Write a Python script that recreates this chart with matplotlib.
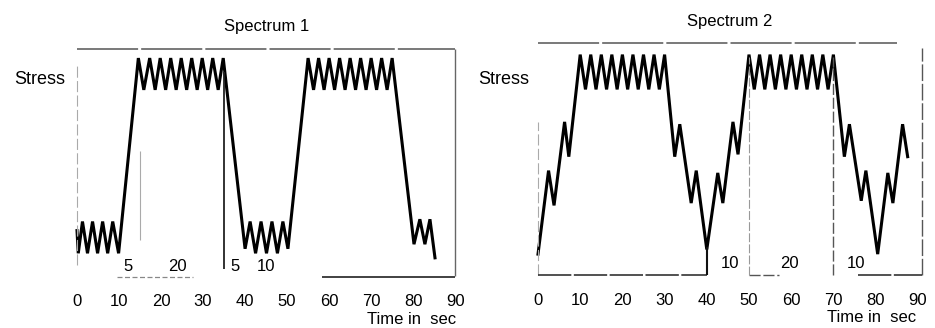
import matplotlib
matplotlib.use("Agg")
import matplotlib.pyplot as plt

plt.rcParams['font.family'] = ['Liberation Sans', 'DejaVu Sans']

# ---------------- data (time in sec, relative stress 0..1) ----------------
s1_time = [0.0, 0.3, 1.3, 2.5, 3.7, 4.9, 6.1, 7.3, 8.5, 9.9,
           14.6, 15.9, 17.3, 18.6, 19.8, 21.1, 22.3, 23.6, 24.8, 26.1, 27.3,
           28.6, 29.8, 31.1, 32.3, 33.6, 34.8,
           40.0, 41.2, 42.5, 43.8, 45.1, 46.4, 47.7, 49.0, 50.2,
           55.0, 56.3, 57.5, 58.8, 60.0, 61.3, 62.5, 63.8, 65.0, 66.3, 67.5,
           68.8, 70.0, 71.3, 72.5, 73.8, 75.0,
           80.2, 81.6, 82.8, 84.0, 85.2]
s1_stress = [0.20, 0.10, 0.24, 0.10, 0.24, 0.10, 0.24, 0.10, 0.24, 0.10,
             0.96, 0.82, 0.96, 0.82, 0.96, 0.82, 0.96, 0.82, 0.96, 0.82, 0.96,
             0.82, 0.96, 0.82, 0.96, 0.82, 0.96,
             0.12, 0.24, 0.10, 0.24, 0.10, 0.24, 0.10, 0.24, 0.12,
             0.96, 0.82, 0.96, 0.82, 0.96, 0.82, 0.96, 0.82, 0.96, 0.82, 0.96,
             0.82, 0.96, 0.82, 0.96, 0.82, 0.96,
             0.14, 0.25, 0.14, 0.25, 0.08]

s2_time = [0.0, 2.5, 3.8, 6.3, 7.3,
           10.0, 11.25, 12.5, 13.75, 15.0, 16.25, 17.5, 18.75, 20.0, 21.25,
           22.5, 23.75, 25.0, 26.25, 27.5, 28.75, 30.0,
           32.4, 33.6, 36.3, 37.5, 40.0, 42.6, 43.8, 46.2, 47.4,
           50.0, 51.25, 52.5, 53.75, 55.0, 56.25, 57.5, 58.75, 60.0, 61.25,
           62.5, 63.75, 65.0, 66.25, 67.5, 68.75, 70.0,
           72.6, 73.8, 76.6, 77.7, 80.5, 82.9, 84.1, 86.4, 87.6]
s2_stress = [0.09, 0.45, 0.30, 0.66, 0.51,
             0.95, 0.80, 0.95, 0.80, 0.95, 0.80, 0.95, 0.80, 0.95, 0.80,
             0.95, 0.80, 0.95, 0.80, 0.95, 0.80, 0.95,
             0.51, 0.65, 0.31, 0.45, 0.11, 0.44, 0.31, 0.66, 0.52,
             0.95, 0.80, 0.95, 0.80, 0.95, 0.80, 0.95, 0.80, 0.95, 0.80,
             0.95, 0.80, 0.95, 0.80, 0.95, 0.80, 0.95,
             0.51, 0.65, 0.32, 0.45, 0.09, 0.44, 0.31, 0.65, 0.51]

tick_values = [0, 10, 20, 30, 40, 50, 60, 70, 80, 90]
tick_labels = ["0", "10", "20", "30", "40", "50", "60", "70", "80", "90"]

s1_durations = [("5", 12.1), ("20", 23.8), ("5", 37.6), ("10", 45.0)]
s2_durations = [("10", 45.4), ("20", 59.6), ("10", 75.4)]

# ---------------- figure ----------------
W, H = 935, 328
fig = plt.figure(figsize=(W / 100, H / 100), dpi=100)
fig.patch.set_facecolor("white")

ax1 = fig.add_axes([77 / W, 1 - 276 / H, 379 / W, 227 / H])
ax2 = fig.add_axes([538 / W, 1 - 275 / H, 384 / W, 232 / H])

FS = 12


def setup(ax, xmax):
    ax.set_xlim(0, xmax)
    ax.set_ylim(0, 1)
    for sp in ax.spines.values():
        sp.set_visible(False)
    ax.set_yticks([])
    ax.set_xticks(tick_values)
    ax.set_xticklabels(tick_labels, fontsize=FS)
    ax.tick_params(axis="x", length=0, pad=13)


def seg(ax, x0, x1, y0, y1, color="#333333", lw=1.0, ls="-"):
    ax.plot([x0, x1], [y0, y1], color=color, lw=lw, ls=ls,
            clip_on=False, solid_capstyle="butt")


# ----- Spectrum 1 -----
setup(ax1, 90.2)
ax1.plot(s1_time, s1_stress, color="black", lw=2.2, solid_joinstyle="miter",
         clip_on=False)
seg(ax1, 0, 90, 1.0, 1.0, color="#555555", lw=1.1, ls=(0, (40, 2)))
seg(ax1, 0, 0, 0.05, 0.93, color="#aaaaaa", lw=0.8, ls=(0, (10, 3)))
seg(ax1, 90, 90, 0.0, 1.0, color="#666666", lw=1.0)
seg(ax1, 9.5, 27.6, -0.005, -0.005, color="#888888", lw=0.9, ls=(0, (4, 2)))
seg(ax1, 58.3, 90, -0.005, -0.005, color="#333333", lw=1.3)
seg(ax1, 15, 15, 0.16, 0.55, color="#aaaaaa", lw=0.8)
seg(ax1, 35, 35, 0.03, 0.90, color="#222222", lw=1.3)
for txt, t in s1_durations:
    ax1.text(t, 0.04, txt, fontsize=FS, ha="center", va="center")
ax1.set_title("Spectrum 1", fontsize=FS, pad=13)
fig.text(14 / W, 1 - 80 / H, "Stress", fontsize=13, ha="left", va="center")
fig.text(456 / W, 1 - 320 / H, "Time in  sec", fontsize=FS, ha="right", va="center")

# ----- Spectrum 2 -----
setup(ax2, 91)
ax2.plot(s2_time, s2_stress, color="black", lw=2.2, solid_joinstyle="miter",
         clip_on=False)
seg(ax2, 0, 85, 1.0, 1.0, color="#555555", lw=1.1, ls=(0, (40, 2)))
seg(ax2, 0, 0, 0.0, 0.66, color="#aaaaaa", lw=0.8, ls=(0, (10, 3)))
seg(ax2, 90.9, 90.9, 0.0, 0.98, color="#555555", lw=1.0, ls=(0, (12, 2)))
seg(ax2, 0, 40, 0.0, 0.0, color="#333333", lw=1.2, ls=(0, (20, 1.5)))
seg(ax2, 50, 57, 0.0, 0.0, color="#555555", lw=1.0, ls=(0, (8, 2)))
seg(ax2, 75.8, 90.9, 0.0, 0.0, color="#333333", lw=1.2, ls=(0, (20, 1.5)))
seg(ax2, 40, 40, 0.0, 0.12, color="#111111", lw=1.5)
seg(ax2, 50, 50, 0.0, 0.94, color="#999999", lw=0.8, ls=(0, (8, 2)))
seg(ax2, 70, 70, 0.0, 0.94, color="#555555", lw=1.0, ls=(0, (8, 2)))
for txt, t in s2_durations:
    ax2.text(t, 0.05, txt, fontsize=FS, ha="center", va="center")
ax2.set_title("Spectrum 2", fontsize=FS, pad=12)
fig.text(478 / W, 1 - 80 / H, "Stress", fontsize=13, ha="left", va="center")
fig.text(916 / W, 1 - 318 / H, "Time in  sec", fontsize=FS, ha="right", va="center")

fig.savefig("out.png", dpi=100)
